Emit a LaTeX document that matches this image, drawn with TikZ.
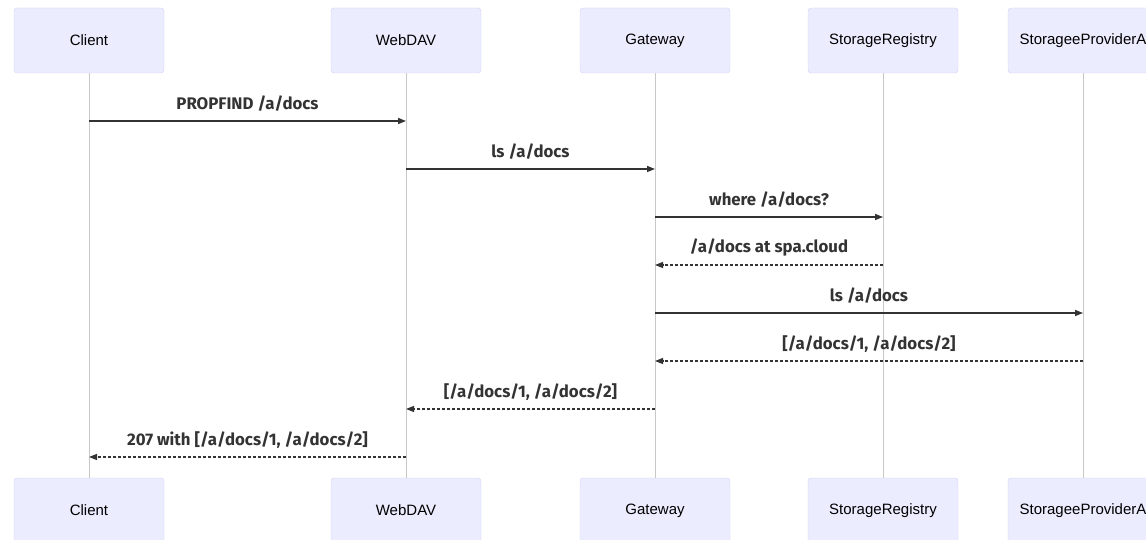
\documentclass[tikz,border=0pt]{standalone}
\usepackage{fontspec}
\setmainfont{Liberation Sans}
\newfontfamily\msgfont{Fira Sans}
\usetikzlibrary{arrows.meta}
\definecolor{actorfill}{HTML}{ECECFF}
\definecolor{actorline}{HTML}{CFCFF7}
\definecolor{lifecol}{HTML}{C8C8C8}
\definecolor{msgcol}{HTML}{333333}

\begin{document}
\begin{tikzpicture}
[
    x=1pt, y=-1pt,
    actor/.style={draw=actorline, fill=actorfill, rounded corners=3pt, minimum width=150pt, minimum height=65pt, font=\fontsize{15}{18}\selectfont},
    life/.style={draw=lifecol, line width=1pt},
    msg/.style={draw=msgcol, line width=1.4pt, -{Triangle[length=8pt,width=6pt]}},
    reply/.style={msg, dash pattern=on 3pt off 2pt},
    msglabel/.style={midway, yshift=17pt, font=\msgfont\bfseries\fontsize{16.8}{20}\selectfont, text=msgcol},
]
\useasboundingbox (0,0) rectangle (1146,540);
\clip (0,0) rectangle (1146,540);

% actors, top and bottom
\node [actor] (clientTop) at (89,40.5) {Client};
\node [actor] (webdavTop) at (406,40.5) {WebDAV};
\node [actor] (gatewayTop) at (655,40.5) {Gateway};
\node [actor] (registryTop) at (883,40.5) {StorageRegistry};
\node [actor] (providerTop) at (1083,40.5) {StorageeProviderA};
\node [actor] (clientBot) at (89,510.5) {Client};
\node [actor] (webdavBot) at (406,510.5) {WebDAV};
\node [actor] (gatewayBot) at (655,510.5) {Gateway};
\node [actor] (registryBot) at (883,510.5) {StorageRegistry};
\node [actor] (providerBot) at (1083,510.5) {StorageeProviderA};

% lifelines
\draw [life] (clientTop) -- (clientBot);
\draw [life] (webdavTop) -- (webdavBot);
\draw [life] (gatewayTop) -- (gatewayBot);
\draw [life] (registryTop) -- (registryBot);
\draw [life] (providerTop) -- (providerBot);

% messages
\draw [msg] (clientTop |- 0,121) -- node[msglabel] {PROPFIND /a/docs} (webdavTop |- 0,121);
\draw [msg] (webdavTop |- 0,169) -- node[msglabel] {ls /a/docs} (gatewayTop |- 0,169);
\draw [msg] (gatewayTop |- 0,217) -- node[msglabel] {where /a/docs?} (registryTop |- 0,217);
\draw [reply] (registryTop |- 0,265) -- node[msglabel] {/a/docs at spa.cloud} (gatewayTop |- 0,265);
\draw [msg] (gatewayTop |- 0,313) -- node[msglabel] {ls /a/docs} (providerTop |- 0,313);
\draw [reply] (providerTop |- 0,361) -- node[msglabel] {[/a/docs/1, /a/docs/2]} (gatewayTop |- 0,361);
\draw [reply] (gatewayTop |- 0,409) -- node[msglabel] {[/a/docs/1, /a/docs/2]} (webdavTop |- 0,409);
\draw [reply] (webdavTop |- 0,457) -- node[msglabel] {207 with [/a/docs/1, /a/docs/2]} (clientTop |- 0,457);
\end{tikzpicture}
\end{document}
